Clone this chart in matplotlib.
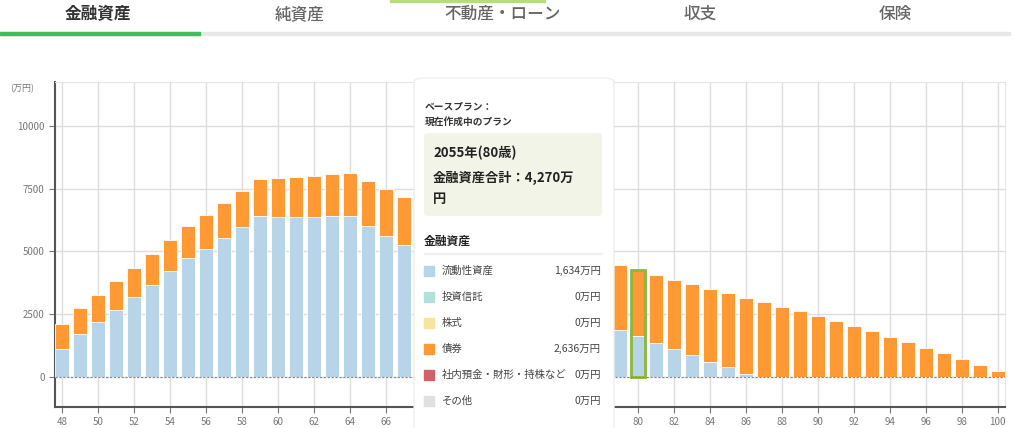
import matplotlib
matplotlib.use("Agg")
import matplotlib.pyplot as plt
from matplotlib.patches import FancyBboxPatch, Rectangle
import numpy as np

plt.rcParams['font.family'] = ['Noto Sans CJK JP', 'DejaVu Sans']

ages = list(range(48, 101))
liquid = [1100, 1690, 2180, 2680, 3170, 3680, 4210, 4730, 5100, 5540, 5980, 6430, 6390, 6390, 6390, 6400, 6400, 6000, 5620, 5250,
          4970, 4690, 4400, 4110, 3820, 3530, 3240, 2950, 2660, 2380, 2110, 1860, 1634, 1370, 1130, 863, 611, 385, 120,
          0, 0, 0, 0, 0, 0, 0, 0, 0, 0, 0, 0, 0, 0]
total = [2125, 2760, 3270, 3810, 4340, 4900, 5460, 6030, 6440, 6920, 7410, 7900, 7915, 7970, 8020, 8090, 8140, 7800, 7490, 7170,
         6940, 6700, 6470, 6240, 6000, 5770, 5540, 5310, 5090, 4870, 4660, 4450, 4270, 4077, 3880, 3705, 3520, 3350, 3160,
         2990, 2800, 2616, 2417, 2231, 2032, 1820, 1607, 1394, 1170, 943, 717, 478, 239]
bonds = [t - l for t, l in zip(total, liquid)]
yticks = [0, 2500, 5000, 7500, 10000]
tabs = ["金融資産", "純資産", "不動産・ローン", "収支", "保険"]
legend_items = [("流動性資産", "1,634万円", "#b8d4e8"), ("投資信託", "0万円", "#b2e0d8"),
                ("株式", "0万円", "#f8e49c"), ("債券", "2,636万円", "#ff9933"),
                ("社内預金・財形・持株など", "0万円", "#d0606a"), ("その他", "0万円", "#e0e0e4")]

W, H = 1024, 428
fig = plt.figure(figsize=(W/100, H/100), dpi=100)
def fx(x): return x / W
def fy(y): return 1 - y / H

ax = fig.add_axes([fx(55), fy(407), fx(1005) - fx(55), fy(82) - fy(407)])
ax.bar(ages, liquid, width=0.78, color="#b8d4e8", edgecolor="white", linewidth=0.6, zorder=3)
ax.bar(ages, bonds, bottom=liquid, width=0.78, color="#ff9933", edgecolor="white", linewidth=0.6, zorder=3)
i80 = ages.index(80)
ax.bar([80], [total[i80]], width=0.78, fill=False, edgecolor="#8ab83c", linewidth=2, zorder=4)
ax.axhline(0, color="#888888", linestyle=(0, (2, 1.5)), linewidth=0.8, zorder=4)
ax.set_xlim(47.6, 100.4)
ax.set_ylim(-1200, 11750)
ax.set_yticks(yticks)
ax.set_yticklabels([str(v) for v in yticks])
ax.set_xticks(range(48, 101, 2))
ax.grid(True, color="#dddddd", linewidth=1, zorder=0)
for s in ["top", "right"]:
    ax.spines[s].set_color("#e6e6e6")
for s in ["left", "bottom"]:
    ax.spines[s].set_color("#555555")
    ax.spines[s].set_linewidth(1.5)
ax.tick_params(axis="both", colors="#777777", labelsize=7, length=4)
ax.tick_params(axis="x", pad=3)
fig.text(fx(22), fy(89), "(万円)", fontsize=6.5, color="#777777", ha="center", va="center")

# tabs
tab_x = [98, 300, 503, 700, 895]
for i, (t, x) in enumerate(zip(tabs, tab_x)):
    fig.text(fx(x), fy(14), t, fontsize=12, ha="center", va="center",
             color="#333333" if i == 0 else "#666666", fontweight="bold" if i == 0 else "medium")
fig.add_artist(Rectangle((fx(0), fy(35)), fx(1010), fy(32) - fy(35), transform=fig.transFigure, color="#e8e8e8"))
fig.add_artist(Rectangle((fx(0), fy(35)), fx(200), fy(32) - fy(35), transform=fig.transFigure, color="#3fbf5a"))
fig.add_artist(Rectangle((fx(390), fy(2)), fx(155), fy(0) - fy(2), transform=fig.transFigure, color="#b8dc7a"))

# tooltip
fig.add_artist(FancyBboxPatch((fx(414), fy(440)), fx(200), fy(78) - fy(440),
               boxstyle="round,pad=0,rounding_size=0.01", transform=fig.transFigure,
               facecolor="white", edgecolor="#eeeeee", linewidth=1, zorder=10))
fig.text(fx(425), fy(106), "ベースプラン：", fontsize=7, fontweight="bold", color="#333333", va="center", zorder=11)
fig.text(fx(425), fy(122), "現在作成中のプラン", fontsize=7, fontweight="bold", color="#333333", va="center", zorder=11)
fig.add_artist(FancyBboxPatch((fx(424), fy(216)), fx(178), fy(133) - fy(216),
               boxstyle="round,pad=0,rounding_size=0.005", transform=fig.transFigure,
               facecolor="#f1f4e6", edgecolor="none", zorder=11))
fig.text(fx(433), fy(153), "2055年(80歳)", fontsize=9.5, fontweight="bold", color="#222222", va="center", zorder=12)
fig.text(fx(433), fy(178), "金融資産合計：4,270万", fontsize=9.5, fontweight="bold", color="#222222", va="center", zorder=12)
fig.text(fx(433), fy(199), "円", fontsize=9.5, fontweight="bold", color="#222222", va="center", zorder=12)
fig.text(fx(424), fy(241), "金融資産", fontsize=8.5, fontweight="bold", color="#222222", va="center", zorder=12)
fig.add_artist(Rectangle((fx(424), fy(254)), fx(178), fy(253) - fy(254), transform=fig.transFigure, color="#f0f0f0", zorder=11))
for k, (name, val, col) in enumerate(legend_items):
    y = 271 + k * 26
    fig.add_artist(Rectangle((fx(424), fy(y + 5)), fx(10), fy(y - 5) - fy(y + 5), transform=fig.transFigure, color=col, zorder=12))
    fig.text(fx(442), fy(y), name, fontsize=7.5, color="#444444", va="center", zorder=12)
    fig.text(fx(601), fy(y), val, fontsize=7.5, color="#444444", va="center", ha="right", zorder=12)

fig.savefig("out.png", dpi=100)
